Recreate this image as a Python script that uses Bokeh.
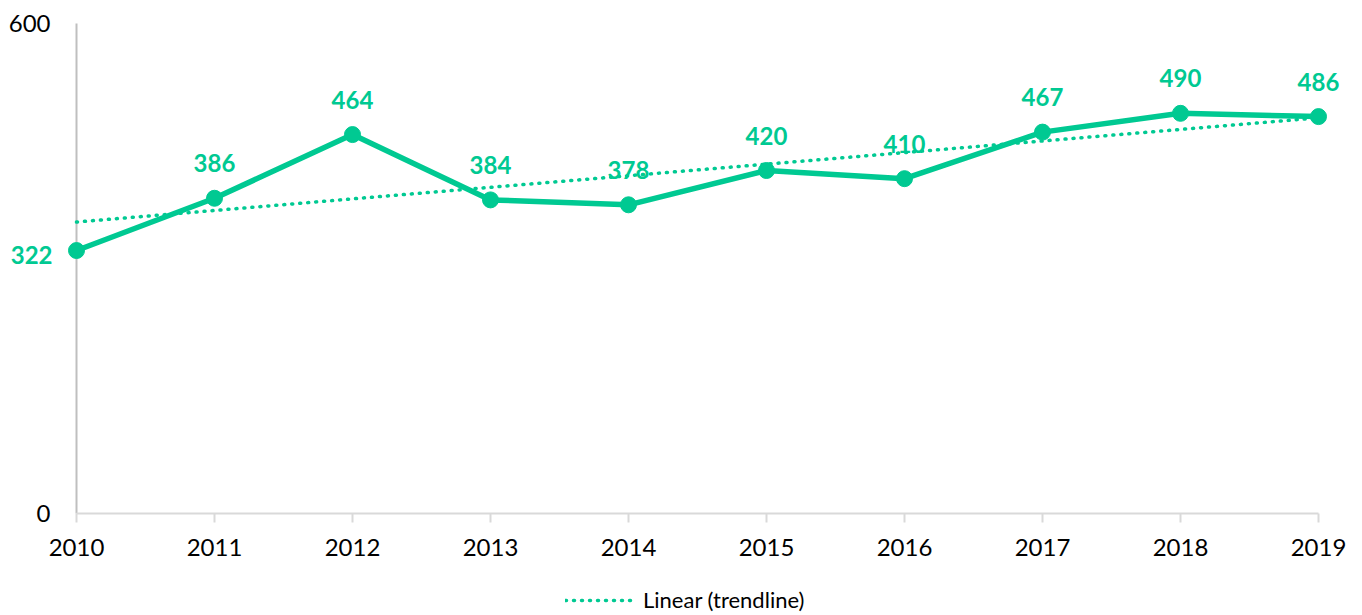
import numpy as np
from bokeh.plotting import figure
from bokeh.models import (ColumnDataSource, FixedTicker, Range1d, Legend, LegendItem)
from bokeh.core.properties import value
from bokeh.embed import file_html
from bokeh.resources import INLINE

years = [2010, 2011, 2012, 2013, 2014, 2015, 2016, 2017, 2018, 2019]
values = [322, 386, 464, 384, 378, 420, 410, 467, 490, 486]
y_ticks = [0, 600]
legend_label = "Linear (trendline)"

GREEN = "#00C992"
FONT = "Lato"

# least-squares linear trendline of the series
slope, intercept = np.polyfit(years, values, 1)
trend_x = [years[0], years[-1]]
trend_y = [slope * x + intercept for x in trend_x]

# frame covers the whole figure so labels outside the axes are not clipped
W, H = 1346, 615
PX_YEAR = 138.0
PX_UNIT = 490.0 / 600.0
x0 = years[0] - 76 / PX_YEAR
x1 = x0 + W / PX_YEAR
y1 = y_ticks[-1] + 23 / PX_UNIT
y0 = y1 - H / PX_UNIT

p = figure(output_backend="svg", toolbar_location=None,
           x_range=Range1d(x0, x1), y_range=Range1d(y0, y1),
           frame_width=W, frame_height=H, y_axis_location=None,
           min_border_left=0, min_border_right=0, min_border_top=0, min_border_bottom=0)
p.outline_line_color = None
p.background_fill_color = "white"
p.border_fill_color = "white"
p.xgrid.grid_line_color = None
p.ygrid.grid_line_color = None

# y axis line
p.segment(x0=[years[0]], y0=[y_ticks[0]], x1=[years[0]], y1=[y_ticks[-1]],
          line_color="#BFBFBF", line_width=2)
# y tick labels
p.text(x=[years[0]] * len(y_ticks), y=y_ticks, text=[str(t) for t in y_ticks],
       x_offset=-26, text_align="right", text_baseline="middle",
       text_font=value(FONT), text_font_size="24px", text_color="black")

src = ColumnDataSource(dict(x=years, y=values, t=[str(v) for v in values]))

trend = p.line(trend_x, trend_y, line_color=GREEN, line_width=3.5,
               line_dash="1 7", line_cap="round")
p.line('x', 'y', source=src, line_color=GREEN, line_width=5.5)
p.scatter('x', 'y', source=src, size=16, color=GREEN)

p.text(x=years[:1], y=values[:1], text=[str(v) for v in values[:1]],
       x_offset=-24, y_offset=4, text_align="right", text_baseline="middle",
       text_color=GREEN, text_font=value(FONT), text_font_style="bold", text_font_size="24px")
p.text(x=years[1:], y=values[1:], text=[str(v) for v in values[1:]],
       x_offset=0, y_offset=-35, text_align="center", text_baseline="middle",
       text_color=GREEN, text_font=value(FONT), text_font_style="bold", text_font_size="24px")

# x axis drawn at y = 0 inside the frame
xa = p.xaxis[0]
xa.fixed_location = 0
xa.ticker = FixedTicker(ticks=years)
xa.bounds = (years[0], years[-1])
xa.axis_line_color = "#D9D9D9"
xa.axis_line_width = 2
xa.major_tick_line_color = "#D9D9D9"
xa.major_tick_line_width = 2
xa.major_tick_out = 9
xa.major_tick_in = 0
xa.minor_tick_line_color = None
xa.major_label_text_font = FONT
xa.major_label_text_font_size = "24px"
xa.major_label_text_color = "black"
xa.major_label_standoff = 16

legend = Legend(items=[LegendItem(label=legend_label, renderers=[trend])],
                location=(565, 2), orientation="horizontal",
                border_line_color=None, background_fill_alpha=0,
                padding=0, margin=0, glyph_width=70, label_standoff=8,
                label_text_font=FONT, label_text_font_size="22px", label_text_color="black")
p.add_layout(legend, "center")

open("out.html", "w").write(file_html(p, INLINE))
